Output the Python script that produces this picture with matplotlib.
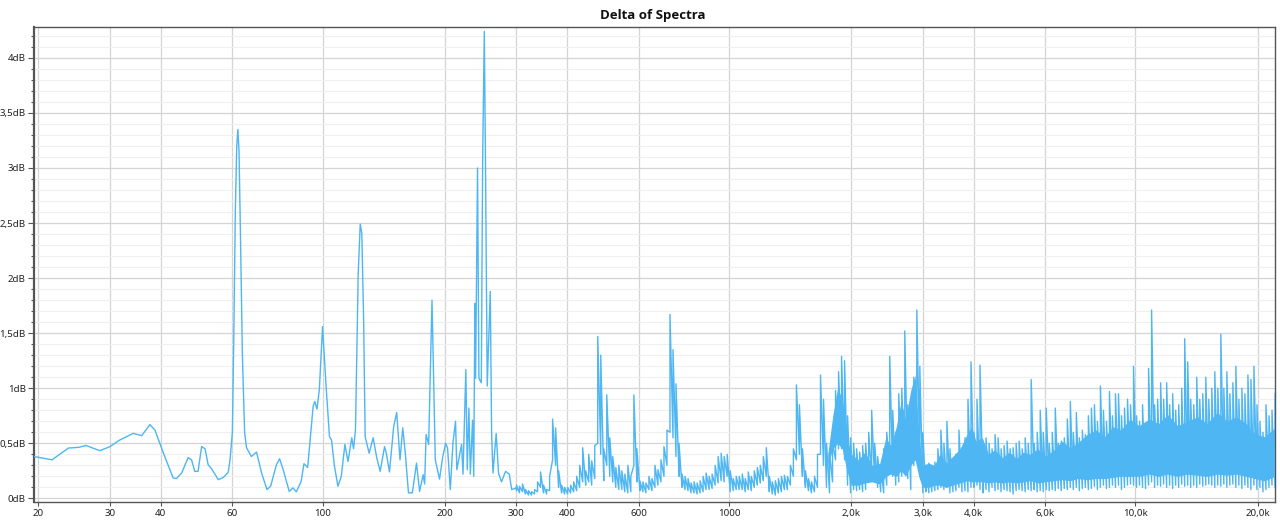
import matplotlib

matplotlib.use("Agg")

import matplotlib.pyplot as plt
import numpy as np
from matplotlib.ticker import MultipleLocator, NullLocator


OUT_PATH = "out.png"
LINE_COLOR = "#4db6f3"

# Smooth low-frequency part of the curve (Hz, dB)
LOW_FREQ = [
    19.5, 21.6, 23.7, 25.1, 26.2, 28.3, 30.0, 31.7, 34.2, 35.9,
    37.6, 38.7, 40.6, 42.9, 43.7, 45.0, 46.7, 47.6, 48.5, 49.4,
    50.4, 51.4, 52.3, 53.3, 55.4, 57.0, 58.6, 59.2, 60.0, 60.5,
    61.0, 61.5, 61.9, 62.3, 62.8, 63.5, 64.3, 65.0, 66.8, 68.8,
    70.8, 73.0, 74.5, 77.0, 78.4, 80.0, 82.8, 84.5, 86.2, 88.6,
    90.0, 91.9, 94.8, 95.7, 96.9, 98.2, 100.0, 102.0, 104.0, 105.2,
    107.0, 109.1, 111.2, 113.5, 115.5, 118.0, 119.2, 120.5, 122.4, 123.8,
    124.9, 126.2, 127.3, 130.2, 133.2, 135.9, 138.6, 142.1, 143.5, 146.1,
    149.6, 152.2, 155.1, 157.5, 159.8, 162.7, 166.3, 170.3, 173.3, 176.8,
    178.3, 179.8, 182.4, 185.9, 189.4, 194.0, 197.4, 200.8, 203.0, 206.2,
    209.3, 212.4, 214.0, 219.8, 221.6, 225.2, 227.0, 229.1, 231.0, 233.9,
    235.5, 237.0, 238.0, 240.6, 242.5, 245.8, 247.7, 250.0, 251.6, 254.2,
    258.6, 260.6, 262.6, 267.4, 271.0, 275.6, 282.0, 288.0, 292.0, 299.8,
]
LOW_DB = [
    0.38, 0.35, 0.457, 0.463, 0.48, 0.433, 0.47, 0.53, 0.59, 0.57,
    0.67, 0.62, 0.41, 0.185, 0.18, 0.23, 0.37, 0.35, 0.245, 0.245,
    0.47, 0.45, 0.305, 0.27, 0.17, 0.19, 0.236, 0.35, 0.6, 1.5,
    2.6, 3.2, 3.35, 3.15, 2.4, 1.3, 0.6, 0.46, 0.38, 0.42,
    0.23, 0.08, 0.11, 0.305, 0.36, 0.26, 0.063, 0.095, 0.06, 0.155,
    0.315, 0.28, 0.835, 0.88, 0.81, 0.99, 1.56, 1.02, 0.56, 0.53,
    0.29, 0.11, 0.2, 0.49, 0.335, 0.55, 0.45, 0.62, 2.05, 2.49,
    2.41, 1.62, 0.56, 0.41, 0.55, 0.37, 0.245, 0.47, 0.41, 0.24,
    0.65, 0.78, 0.35, 0.64, 0.41, 0.05, 0.05, 0.32, 0.063, 0.215,
    0.13, 0.58, 0.49, 1.8, 0.35, 0.175, 0.37, 0.5, 0.46, 0.08,
    0.5, 0.7, 0.26, 0.49, 0.22, 1.17, 0.26, 0.82, 0.22, 0.71,
    0.2, 1.77, 1.09, 3.0, 1.09, 1.05, 3.07, 4.24, 3.13, 1.02,
    1.88, 0.59, 0.23, 0.59, 0.23, 0.15, 0.245, 0.22, 0.08, 0.095,
]

# Noisy part, 300 Hz .. 22.05 kHz: per-column max / min
BAND_START_HZ = 300.0
BAND_STOP_HZ = 22050.0
BAND_HI = [
    0.12, 0.11, 0.13, 0.08, 0.07, 0.06, 0.08, 0.15, 0.24, 0.12,
    0.08, 0.20, 0.72, 0.64, 0.25, 0.12, 0.10, 0.10, 0.12, 0.15,
    0.20, 0.30, 0.46, 0.25, 0.40, 0.34, 0.48, 1.47, 1.30, 0.45,
    0.94, 0.55, 0.38, 0.28, 0.30, 0.25, 0.22, 0.30, 0.20, 0.94,
    0.45, 0.16, 0.15, 0.14, 0.20, 0.18, 0.30, 0.26, 0.35, 0.47,
    0.62, 1.67, 1.35, 1.04, 0.50, 0.22, 0.20, 0.18, 0.14, 0.15,
    0.14, 0.16, 0.20, 0.23, 0.20, 0.22, 0.30, 0.38, 0.41, 0.38,
    0.40, 0.25, 0.18, 0.20, 0.20, 0.22, 0.18, 0.24, 0.20, 0.25,
    0.28, 0.30, 0.38, 0.46, 0.20, 0.15, 0.16, 0.18, 0.20, 0.21,
    0.20, 0.30, 0.45, 1.03, 0.85, 0.45, 0.25, 0.18, 0.15, 0.20,
    0.40, 1.12, 0.90, 0.50, 0.42, 0.50, 0.98, 1.15, 1.29, 1.25,
    0.75, 0.55, 0.50, 0.45, 0.42, 0.48, 0.50, 0.60, 0.80, 0.50,
    0.38, 0.30, 0.45, 0.60, 1.29, 0.80, 0.60, 0.95, 1.00, 1.52,
    0.85, 0.60, 1.10, 1.71, 1.20, 0.60, 0.30, 0.32, 0.30, 0.33,
    0.45, 0.62, 0.50, 0.70, 0.45, 0.35, 0.40, 0.62, 0.45, 0.55,
    0.90, 1.24, 0.60, 0.90, 1.21, 0.50, 0.55, 0.50, 0.45, 0.58,
    0.55, 0.45, 0.48, 0.52, 0.45, 0.46, 0.50, 0.52, 0.45, 0.55,
    0.50, 1.08, 0.50, 0.60, 0.80, 0.60, 0.82, 0.50, 0.60, 0.82,
    0.50, 0.52, 0.55, 0.72, 0.88, 0.60, 0.78, 0.55, 0.62, 0.58,
    0.75, 0.82, 0.85, 0.70, 1.02, 0.80, 0.70, 0.97, 0.75, 0.95,
    0.95, 0.75, 0.82, 0.90, 0.85, 1.20, 0.75, 0.70, 0.85, 0.60,
    1.18, 1.71, 0.85, 0.90, 1.05, 0.90, 1.05, 0.85, 0.95, 0.80,
    0.85, 1.00, 1.45, 1.24, 0.90, 0.85, 1.10, 0.90, 0.95, 1.10,
    0.90, 1.00, 1.15, 1.00, 1.49, 1.00, 1.15, 0.95, 1.05, 1.20,
    0.90, 1.00, 0.95, 1.12, 1.08, 1.20, 0.85, 0.70, 0.60, 0.85,
    0.75, 0.80, 0.95,
]
BAND_LO = [
    0.07, 0.05, 0.06, 0.04, 0.03, 0.03, 0.04, 0.06, 0.10, 0.05,
    0.04, 0.07, 0.35, 0.30, 0.10, 0.05, 0.04, 0.04, 0.05, 0.06,
    0.07, 0.10, 0.15, 0.12, 0.15, 0.12, 0.18, 0.50, 0.40, 0.16,
    0.30, 0.20, 0.15, 0.10, 0.08, 0.08, 0.06, 0.05, 0.06, 0.30,
    0.15, 0.07, 0.06, 0.05, 0.08, 0.07, 0.10, 0.12, 0.15, 0.20,
    0.30, 0.60, 0.55, 0.38, 0.20, 0.10, 0.08, 0.07, 0.05, 0.05,
    0.04, 0.05, 0.06, 0.08, 0.08, 0.09, 0.12, 0.14, 0.16, 0.15,
    0.20, 0.06, 0.07, 0.08, 0.08, 0.08, 0.06, 0.08, 0.07, 0.10,
    0.12, 0.14, 0.16, 0.20, 0.06, 0.04, 0.03, 0.05, 0.06, 0.08,
    0.08, 0.12, 0.20, 0.35, 0.40, 0.20, 0.10, 0.07, 0.05, 0.06,
    0.10, 0.40, 0.30, 0.10, 0.05, 0.15, 0.35, 0.45, 0.45, 0.35,
    0.12, 0.05, 0.08, 0.07, 0.08, 0.06, 0.08, 0.15, 0.20, 0.15,
    0.10, 0.06, 0.05, 0.12, 0.30, 0.20, 0.12, 0.15, 0.20, 0.30,
    0.18, 0.08, 0.30, 0.45, 0.30, 0.05, 0.06, 0.05, 0.06, 0.07,
    0.08, 0.10, 0.08, 0.10, 0.05, 0.06, 0.07, 0.10, 0.06, 0.07,
    0.06, 0.10, 0.10, 0.12, 0.08, 0.05, 0.08, 0.06, 0.10, 0.07,
    0.08, 0.06, 0.08, 0.07, 0.06, 0.04, 0.07, 0.08, 0.07, 0.06,
    0.08, 0.07, 0.08, 0.06, 0.07, 0.06, 0.08, 0.07, 0.08, 0.07,
    0.09, 0.07, 0.09, 0.08, 0.10, 0.08, 0.10, 0.07, 0.09, 0.10,
    0.08, 0.09, 0.11, 0.08, 0.10, 0.12, 0.09, 0.10, 0.12, 0.10,
    0.12, 0.08, 0.10, 0.12, 0.13, 0.12, 0.10, 0.12, 0.10, 0.09,
    0.12, 0.15, 0.10, 0.12, 0.11, 0.13, 0.10, 0.12, 0.09, 0.12,
    0.10, 0.13, 0.11, 0.12, 0.10, 0.12, 0.10, 0.13, 0.11, 0.12,
    0.13, 0.12, 0.10, 0.12, 0.11, 0.13, 0.10, 0.12, 0.13, 0.10,
    0.12, 0.09, 0.12, 0.10, 0.08, 0.12, 0.08, 0.10, 0.06, 0.08,
    0.10, 0.12, 0.10,
]

# Solid core of the dense high-frequency band (Hz, dB)
CORE_FREQ = [
    1750, 1800, 1850, 1900, 1950, 2000, 2080, 2160, 2250, 2350,
    2430, 2500, 2580, 2650, 2720, 2800, 2870, 2930, 2990, 3100,
    3200, 3300, 3420, 3550, 3700, 3850, 3950, 4050, 4200, 4350,
    4500, 4700, 4900, 5100, 5300, 5500, 5750, 6000, 6300, 6600,
    6900, 7200, 7600, 8000, 8400, 8800, 9200, 9700, 10200, 10800,
    11400, 12000, 12700, 13400, 14200, 15000, 15900, 16800, 17700, 18700,
    19700, 20800, 22050,
]
CORE_LO = [
    0.30, 0.45, 0.50, 0.45, 0.25, 0.12, 0.12, 0.14, 0.15, 0.13,
    0.20, 0.22, 0.20, 0.25, 0.20, 0.30, 0.35, 0.20, 0.10, 0.10,
    0.12, 0.12, 0.10, 0.12, 0.14, 0.16, 0.15, 0.15, 0.15, 0.14,
    0.15, 0.14, 0.15, 0.14, 0.15, 0.16, 0.14, 0.15, 0.16, 0.17,
    0.16, 0.18, 0.17, 0.18, 0.18, 0.19, 0.20, 0.20, 0.20, 0.22,
    0.20, 0.22, 0.20, 0.22, 0.21, 0.20, 0.22, 0.21, 0.22, 0.20,
    0.18, 0.16, 0.20,
]
CORE_HI = [
    0.40, 0.75, 1.00, 0.90, 0.55, 0.40, 0.35, 0.42, 0.30, 0.32,
    0.55, 0.48, 0.65, 0.88, 0.72, 0.98, 1.12, 0.60, 0.30, 0.32,
    0.30, 0.40, 0.32, 0.38, 0.45, 0.58, 0.65, 0.52, 0.55, 0.40,
    0.44, 0.37, 0.42, 0.36, 0.42, 0.40, 0.45, 0.38, 0.44, 0.52,
    0.46, 0.50, 0.58, 0.62, 0.56, 0.65, 0.62, 0.72, 0.66, 0.72,
    0.68, 0.76, 0.66, 0.70, 0.74, 0.68, 0.78, 0.70, 0.74, 0.68,
    0.58, 0.56, 0.64,
]

X_TICKS = [20, 30, 40, 60, 100, 200, 300, 400, 600, 1000, 2000, 3000, 4000, 6000, 10000, 20000]
X_LABELS = ["20", "30", "40", "60", "100", "200", "300", "400", "600", "1000",
            "2,0k", "3,0k", "4,0k", "6,0k", "10,0k", "20,0k"]
Y_TICKS = [0, 0.5, 1, 1.5, 2, 2.5, 3, 3.5, 4]
Y_LABELS = ["0dB", "0,5dB", "1dB", "1,5dB", "2dB", "2,5dB", "3dB", "3,5dB", "4dB"]


def build_trace() -> tuple[np.ndarray, np.ndarray]:
    band_freq = np.geomspace(BAND_START_HZ, BAND_STOP_HZ, len(BAND_HI))
    # each column: min then max at the same frequency, giving a dense sawtooth
    zig_freq = np.repeat(band_freq, 2)
    zig_db = np.column_stack((BAND_LO, BAND_HI)).ravel()
    freq = np.concatenate((LOW_FREQ, zig_freq))
    db = np.concatenate((LOW_DB, zig_db))
    return freq, db


def style_axes(ax) -> None:
    ax.set_xscale("log")
    ax.set_xlim(19.5, 22050)
    ax.set_ylim(-0.033, 4.28)

    ax.set_xticks(X_TICKS, X_LABELS)
    ax.xaxis.set_minor_locator(NullLocator())
    ax.set_yticks(Y_TICKS, Y_LABELS)
    ax.yaxis.set_minor_locator(MultipleLocator(0.1))

    ax.grid(which="major", axis="both", color="#d4d4d4", linewidth=0.9)
    ax.grid(which="minor", axis="y", color="#efefef", linewidth=0.8)
    ax.set_axisbelow(True)

    ax.tick_params(axis="both", which="major", labelsize=7, colors="#555555",
                   labelcolor="#222222", length=4, width=0.8, pad=2)
    ax.tick_params(axis="y", which="minor", length=2.5, width=0.8, colors="#555555")
    ax.tick_params(axis="x", which="major", length=3)

    for name, spine in ax.spines.items():
        spine.set_color("#555555")
        spine.set_linewidth(1.6 if name == "left" else 1.0)


def main() -> None:
    plt.rcParams["font.family"] = ["Noto Sans", "DejaVu Sans"]
    fig = plt.figure(figsize=(12.8, 5.27), dpi=100)
    fig.patch.set_facecolor("white")
    ax = fig.add_axes([34 / 1280, 25 / 527, 1241 / 1280, 475 / 527])

    style_axes(ax)

    ax.fill_between(CORE_FREQ, CORE_LO, CORE_HI, color=LINE_COLOR, linewidth=0, zorder=2)
    freq, db = build_trace()
    ax.plot(freq, db, color=LINE_COLOR, linewidth=1.0, zorder=3)

    fig.text(653 / 1280, 1 - 15 / 527, "Delta of Spectra", ha="center", va="center",
             fontsize=9.5, fontweight="bold", color="#111111",
             family=["Open Sans", "Liberation Sans", "DejaVu Sans"])

    fig.savefig(OUT_PATH, dpi=100, facecolor="white")
    plt.close(fig)


if __name__ == "__main__":
    main()
